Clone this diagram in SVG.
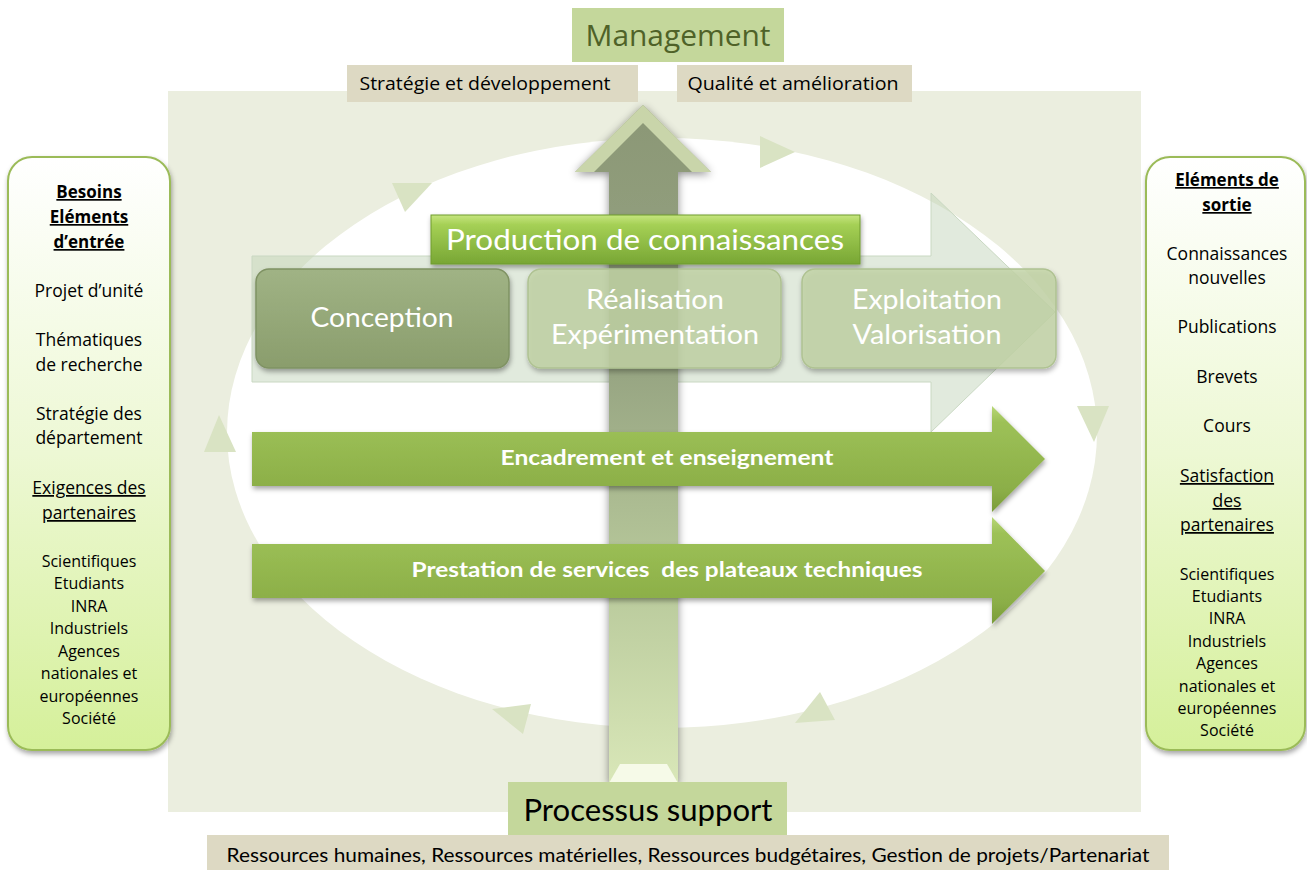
<svg xmlns="http://www.w3.org/2000/svg" width="1307" height="870" viewBox="0 0 1307 870">
<defs>
<style>
.os{font-family:"Open Sans","Noto Sans","DejaVu Sans",sans-serif;}
.ca{font-family:Lato,"Open Sans","Liberation Sans",sans-serif;}
.side{font-size:17.5px;fill:#000;text-anchor:middle;}
.sm{font-size:16px;fill:#000;text-anchor:middle;}
.u{text-decoration:underline;}
.b{font-weight:bold;font-size:17px;}
.wt{fill:#fff;text-anchor:middle;}
.tri{fill:#D9E3C3;}
.tag{fill:#DDD9C3;}
.head{fill:#C4D79B;}
</style>
<filter id="sh" x="-10%" y="-10%" width="125%" height="130%">
<feDropShadow dx="1" dy="3" stdDeviation="2.5" flood-color="#000" flood-opacity="0.35"/>
</filter>
<filter id="sh2" x="-20%" y="-20%" width="140%" height="140%">
<feDropShadow dx="0" dy="2" stdDeviation="4" flood-color="#000" flood-opacity="0.45"/>
</filter>
<linearGradient id="panel" x1="0" y1="0" x2="0" y2="1">
<stop offset="0" stop-color="#FFFFFF"/>
<stop offset="0.5" stop-color="#EDF8D4"/>
<stop offset="1" stop-color="#D5F09A"/>
</linearGradient>
<linearGradient id="green" x1="0" y1="0" x2="0" y2="1">
<stop offset="0" stop-color="#B8D777"/>
<stop offset="0.15" stop-color="#9DC157"/>
<stop offset="0.8" stop-color="#8BAE47"/>
<stop offset="1" stop-color="#7A9C3A"/>
</linearGradient>
<linearGradient id="prod" x1="0" y1="0" x2="0" y2="1">
<stop offset="0" stop-color="#C6E57F"/>
<stop offset="0.2" stop-color="#A5D055"/>
<stop offset="1" stop-color="#78A634"/>
</linearGradient>
<linearGradient id="vert" x1="0" y1="105" x2="0" y2="783" gradientUnits="userSpaceOnUse">
<stop offset="0" stop-color="#8B9776"/>
<stop offset="0.4" stop-color="#98A683"/>
<stop offset="0.7" stop-color="#B8C99B"/>
<stop offset="1" stop-color="#D9E7B8"/>
</linearGradient>
<linearGradient id="conc" x1="0" y1="0" x2="0" y2="1">
<stop offset="0" stop-color="#A0B385"/>
<stop offset="1" stop-color="#8A9D6C"/>
</linearGradient>
</defs>

<g id="background">
<rect x="168" y="91" width="973" height="721" fill="#EBEEDF"/>
<ellipse cx="662" cy="433" rx="435" ry="295" fill="#FFFFFF"/>
</g>

<g id="cycle-arrows">
<polygon class="tri" points="392,183 432,183 405,212"/>
<polygon class="tri" points="760,136 795,152 760,168"/>
<polygon class="tri" points="1077,406 1109,406 1094,442"/>
<polygon class="tri" points="204,452 236,452 219,415"/>
<polygon class="tri" points="492,709 531,704 523,734"/>
<polygon class="tri" points="795,723 835,720 820,692"/>
</g>

<g id="production-band">
<polygon points="252,256 931,256 931,193 1055,312 931,432 931,382 252,382" fill="#BCD0B4" fill-opacity="0.45" stroke="#C9D8C2" stroke-width="1"/>
</g>

<g id="vertical-arrow">
<polygon points="609,783 609,172 575,172 643,105 711,172 678,172 678,783" fill="url(#vert)" filter="url(#sh2)"/>
<polygon points="643,105 575,172 594,172 643,123" fill="#D3DFB3" opacity="0.85"/>
<polygon points="643,105 711,172 692,172 643,123" fill="#D3DFB3" opacity="0.85"/>
<polygon points="609,783 678,783 667,764 620,764" fill="#F6FAE8"/>
</g>

<g id="connectors">
<g id="arrow-encadrement">
<polygon points="252,432 992,432 992,406 1045,459 992,512 992,486 252,486" fill="url(#green)" filter="url(#sh)"/>
<text class="ca wt" font-weight="bold" x="667" y="465" font-size="20" textLength="333" lengthAdjust="spacingAndGlyphs">Encadrement et enseignement</text>
</g>
<g id="arrow-prestation">
<polygon points="252,544 992,544 992,517 1045,571 992,624 992,598 252,598" fill="url(#green)" filter="url(#sh)"/>
<text class="ca wt" font-weight="bold" x="667" y="577" font-size="20" textLength="511" lengthAdjust="spacingAndGlyphs" xml:space="preserve">Prestation de services  des plateaux techniques</text>
</g>
</g>

<g id="node-production">
<rect x="431" y="215" width="429" height="49" fill="url(#prod)" stroke="#6F9B2E" stroke-width="1" filter="url(#sh)"/>
<text class="ca wt" x="645" y="250" font-size="28" textLength="398" lengthAdjust="spacingAndGlyphs">Production de connaissances</text>
</g>

<g id="node-conception">
<rect x="256" y="269" width="253" height="99" rx="13" fill="url(#conc)" stroke="#7F9263" stroke-width="1.5" filter="url(#sh)"/>
<text class="ca wt" x="382" y="327" font-size="27" textLength="143" lengthAdjust="spacingAndGlyphs">Conception</text>
</g>
<g id="node-realisation">
<rect x="528" y="269" width="253" height="99" rx="13" fill="#C3D5A6" fill-opacity="0.8" stroke="#AFC292" stroke-width="1.5" filter="url(#sh)"/>
<text class="ca wt" x="655" y="309" font-size="27" textLength="138" lengthAdjust="spacingAndGlyphs">Réalisation</text>
<text class="ca wt" x="655" y="344" font-size="27" textLength="208" lengthAdjust="spacingAndGlyphs">Expérimentation</text>
</g>
<g id="node-exploitation">
<rect x="802" y="269" width="254" height="99" rx="13" fill="#C3D5A6" fill-opacity="0.8" stroke="#AFC292" stroke-width="1.5" filter="url(#sh)"/>
<text class="ca wt" x="927" y="309" font-size="27" textLength="150" lengthAdjust="spacingAndGlyphs">Exploitation</text>
<text class="ca wt" x="927" y="344" font-size="27" textLength="149" lengthAdjust="spacingAndGlyphs">Valorisation</text>
</g>

<g id="node-management">
<rect class="head" x="572" y="8" width="212" height="54"/>
<text class="os" x="678" y="46" font-size="30" fill="#4F6228" text-anchor="middle" textLength="185" lengthAdjust="spacingAndGlyphs">Management</text>
</g>
<g id="node-strategie">
<rect class="tag" x="347" y="65" width="291" height="37"/>
<text class="os" x="485" y="90" font-size="18" fill="#000" text-anchor="middle" textLength="251" lengthAdjust="spacingAndGlyphs">Stratégie et développement</text>
</g>
<g id="node-qualite">
<rect class="tag" x="677" y="65" width="235" height="37"/>
<text class="os" x="793" y="90" font-size="18" fill="#000" text-anchor="middle" textLength="211" lengthAdjust="spacingAndGlyphs">Qualité et amélioration</text>
</g>

<g id="node-processus">
<rect class="head" x="508" y="782" width="279" height="53"/>
<text class="ca" x="648" y="821" font-size="31" fill="#000" text-anchor="middle" textLength="249" lengthAdjust="spacingAndGlyphs">Processus support</text>
</g>
<g id="node-ressources">
<rect class="tag" x="207" y="835" width="962" height="35"/>
<text class="ca" x="688" y="862" font-size="19" fill="#000" text-anchor="middle" textLength="923" lengthAdjust="spacingAndGlyphs">Ressources humaines, Ressources matérielles, Ressources budgétaires, Gestion de projets/Partenariat</text>
</g>

<g id="node-entree">
<rect x="8" y="157" width="162" height="593" rx="24" fill="url(#panel)" stroke="#9BBB59" stroke-width="2" filter="url(#sh)"/>
<g class="os">
<text class="side b u" x="89" y="198">Besoins</text>
<text class="side b u" x="89" y="223">Eléments</text>
<text class="side b u" x="89" y="248">d’entrée</text>
<text class="side" x="89" y="297">Projet d’unité</text>
<text class="side" x="89" y="346">Thématiques</text>
<text class="side" x="89" y="371">de recherche</text>
<text class="side" x="89" y="420">Stratégie des</text>
<text class="side" x="89" y="444">département</text>
<text class="side u" x="89" y="494">Exigences des</text>
<text class="side u" x="89" y="519">partenaires</text>
<text class="sm" x="89" y="567">Scientifiques</text>
<text class="sm" x="89" y="589">Etudiants</text>
<text class="sm" x="89" y="612">INRA</text>
<text class="sm" x="89" y="634">Industriels</text>
<text class="sm" x="89" y="657">Agences</text>
<text class="sm" x="89" y="679">nationales et</text>
<text class="sm" x="89" y="702">européennes</text>
<text class="sm" x="89" y="724">Société</text>
</g>
</g>

<g id="node-sortie">
<rect x="1146" y="157" width="159" height="593" rx="24" fill="url(#panel)" stroke="#9BBB59" stroke-width="2" filter="url(#sh)"/>
<g class="os">
<text class="side b u" x="1227" y="186">Eléments de</text>
<text class="side b u" x="1227" y="211">sortie</text>
<text class="side" x="1227" y="260">Connaissances</text>
<text class="side" x="1227" y="284">nouvelles</text>
<text class="side" x="1227" y="333">Publications</text>
<text class="side" x="1227" y="383">Brevets</text>
<text class="side" x="1227" y="432">Cours</text>
<text class="side u" x="1227" y="482">Satisfaction</text>
<text class="side u" x="1227" y="507">des</text>
<text class="side u" x="1227" y="531">partenaires</text>
<text class="sm" x="1227" y="580">Scientifiques</text>
<text class="sm" x="1227" y="602">Etudiants</text>
<text class="sm" x="1227" y="624">INRA</text>
<text class="sm" x="1227" y="647">Industriels</text>
<text class="sm" x="1227" y="669">Agences</text>
<text class="sm" x="1227" y="692">nationales et</text>
<text class="sm" x="1227" y="714">européennes</text>
<text class="sm" x="1227" y="736">Société</text>
</g>
</g>
</svg>
